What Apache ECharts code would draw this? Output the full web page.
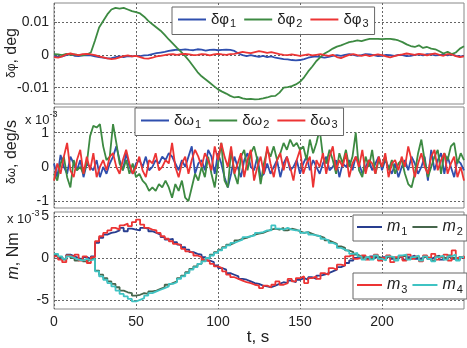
<!DOCTYPE html>
<html><head><meta charset="utf-8">
<script src="https://cdn.jsdelivr.net/npm/echarts@6/dist/echarts.min.js"></script>
<style>html,body{margin:0;padding:0;background:#fff}#c{width:467px;height:348px}</style>
</head><body><div id="c"></div>
<script>
// ---------- data ----------
const T_MAX = 250;
const xTicks = [0, 50, 100, 150, 200];
// panel 1: attitude errors, deg, sampled every 2.5 s
const phiStep = 2.5;
const phi1 = [
 -0.0003,-0.0005,-0.0004,0.0000,0.0003,-0.0002,-0.0003,-0.0001,0.0000,-0.0001,
 -0.0004,-0.0006,-0.0008,-0.0010,-0.0009,-0.0006,-0.0004,-0.0006,-0.0003,-0.0004,
 -0.0002,-0.0003,-0.0001,0.0000,0.0003,0.0006,0.0008,0.0010,0.0013,0.0015,
 0.0017,0.0016,0.0018,0.0016,0.0015,0.0018,0.0017,0.0014,0.0016,0.0017,
 0.0015,0.0016,0.0017,0.0016,0.0013,0.0005,0.0000,-0.0003,0.0000,-0.0003,
 -0.0005,-0.0002,-0.0006,-0.0004,-0.0008,-0.0010,-0.0012,-0.0013,-0.0015,-0.0016,
 -0.0015,-0.0012,-0.0008,-0.0005,-0.0004,-0.0006,-0.0008,-0.0005,-0.0002,0.0000,
 -0.0002,0.0001,0.0003,0.0001,-0.0002,0.0000,0.0003,0.0002,0.0000,-0.0003,
 -0.0002,0.0001,0.0000,-0.0002,0.0001,0.0000,-0.0003,-0.0002,0.0001,0.0002,
 -0.0001,0.0003,0.0002,-0.0001,0.0000,0.0002,-0.0001,0.0003,-0.0002,-0.0004,
 -0.0003];
const phi2 = [
 0.0003,0.0002,0.0000,0.0004,0.0001,0.0002,0.0000,-0.0001,0.0002,0.0008,
 0.0045,0.0085,0.0105,0.0125,0.0140,0.0145,0.0143,0.0145,0.0140,0.0135,
 0.0132,0.0128,0.0118,0.0105,0.0095,0.0085,0.0075,0.0062,0.0048,0.0035,
 0.0022,0.0010,-0.0003,-0.0018,-0.0035,-0.0052,-0.0065,-0.0075,-0.0085,-0.0095,
 -0.0105,-0.0112,-0.0118,-0.0125,-0.0130,-0.0128,-0.0133,-0.0135,-0.0134,-0.0136,
 -0.0135,-0.0133,-0.0130,-0.0126,-0.0125,-0.0115,-0.0100,-0.0098,-0.0095,-0.0090,
 -0.0082,-0.0068,-0.0050,-0.0035,-0.0018,-0.0006,0.0005,0.0012,0.0020,0.0026,
 0.0030,0.0035,0.0040,0.0042,0.0045,0.0043,0.0047,0.0050,0.0050,0.0050,
 0.0049,0.0050,0.0050,0.0048,0.0045,0.0040,0.0033,0.0028,0.0025,0.0030,
 0.0022,0.0025,0.0020,0.0018,0.0012,0.0005,0.0010,0.0003,0.0008,0.0020,
 0.0027];
const phi3 = [
 -0.0006,-0.0008,-0.0004,0.0002,0.0005,0.0002,0.0000,0.0003,0.0004,0.0002,
 0.0000,-0.0004,-0.0007,-0.0010,-0.0012,-0.0011,-0.0007,-0.0003,-0.0001,-0.0004,
 -0.0002,-0.0006,-0.0010,-0.0011,-0.0008,-0.0004,-0.0002,0.0000,0.0002,0.0003,
 0.0001,0.0003,0.0004,0.0002,0.0000,0.0001,0.0003,0.0002,-0.0001,0.0002,
 0.0004,0.0002,0.0001,0.0003,0.0004,0.0007,0.0010,0.0008,0.0006,0.0009,
 0.0012,0.0010,0.0007,0.0009,0.0006,0.0003,0.0001,0.0000,0.0002,0.0000,
 -0.0002,0.0000,0.0002,-0.0001,0.0001,0.0003,0.0000,-0.0002,0.0001,-0.0006,
 -0.0009,-0.0004,0.0001,0.0003,0.0000,-0.0002,0.0001,-0.0003,0.0000,0.0002,
 0.0000,-0.0004,-0.0007,-0.0003,0.0000,0.0002,0.0005,0.0003,0.0001,0.0004,
 0.0002,-0.0001,0.0003,0.0005,0.0001,-0.0002,0.0003,0.0002,-0.0003,-0.0006,
 -0.0004];
// panel 2: rate errors, x1e-3 deg/s, sampled every 2 s
const omStep = 2;
const om1 = [
 0.1,-0.3,0.35,0.0,-0.2,0.3,0.1,-0.1,0.2,-0.3,
 0.1,0.0,-0.1,0.2,-0.3,0.0,-0.2,0.1,0.3,0.6,
 0.2,-0.1,0.4,0.0,-0.2,0.1,0.2,0.0,0.3,-0.1,
 0.0,0.2,0.1,0.3,0.2,0.4,0.3,0.1,-0.1,0.2,
 0.0,0.3,0.6,-0.2,0.1,0.2,-0.1,0.5,0.3,-0.2,
 0.4,0.1,-0.3,-0.6,-0.2,0.3,0.0,-0.3,0.2,0.4,
 0.0,-0.1,0.3,-0.3,-0.2,0.1,-0.2,0.0,0.2,-0.3,
 0.1,0.3,-0.1,0.0,0.2,-0.2,0.1,0.3,-0.1,0.2,
 0.0,-0.2,0.1,0.3,-0.1,0.0,0.2,-0.3,0.1,0.0,
 0.2,-0.1,0.3,0.1,-0.2,0.0,0.2,-0.1,0.1,0.3,
 -0.1,0.2,0.0,-0.2,0.1,-0.3,0.0,0.2,-0.1,0.3,
 0.1,-0.2,0.0,0.3,-0.4,0.5,-0.1,0.2,0.4,-0.2,
 0.3,0.0,-0.3,0.2,0.1,-0.1];
const om2 = [
 -0.2,-0.4,0.1,0.3,-0.3,-0.6,0.2,-0.1,0.0,-0.2,
 0.1,0.9,1.2,1.15,1.25,0.6,0.2,0.3,1.25,0.7,
 0.1,-0.1,0.2,-0.2,0.1,-0.3,-0.2,-0.4,-0.5,-0.7,
 -0.6,-0.7,-0.5,-0.6,-0.4,-0.6,-0.9,-0.5,-0.7,-0.4,
 -0.9,-1.0,-0.6,-0.2,-0.4,0.0,-0.3,0.3,-0.2,-0.6,
 0.1,0.7,-0.4,-0.6,0.5,-0.2,-0.5,0.3,0.5,-0.1,
 0.4,0.6,0.2,-0.5,0.1,0.5,0.3,0.6,0.2,0.4,
 0.7,0.5,0.8,0.6,0.7,0.5,0.6,0.2,0.8,0.4,
 0.7,1.1,0.3,0.1,0.5,0.2,-0.2,0.4,0.1,0.5,
 0.0,0.3,1.0,-0.1,-0.3,0.3,0.0,0.5,-0.2,0.2,
 0.0,0.3,-0.1,0.2,-0.2,0.1,0.2,-0.2,-0.5,-0.6,
 -0.2,0.4,0.8,0.2,-0.3,0.0,0.3,0.5,-0.2,0.4,
 0.2,0.6,0.7,0.1,0.4,0.2];
const om3 = [
 -0.4,0.1,-0.2,0.3,0.7,-0.1,-0.3,0.2,0.5,-0.2,
 0.3,-0.1,0.4,-0.3,0.0,0.2,-0.1,0.3,0.4,0.0,
 -0.2,0.2,0.5,0.1,-0.2,0.0,0.3,-0.1,-0.3,0.2,
 0.1,0.4,-0.1,0.0,0.2,0.1,0.7,0.0,-0.3,0.1,
 0.3,-0.2,0.2,0.5,0.3,0.0,0.4,0.2,-0.1,0.6,
 0.2,0.7,0.3,0.0,0.6,-0.2,0.1,0.4,-0.3,0.2,
 0.5,-0.4,0.0,0.3,-0.2,0.6,0.1,-0.3,0.2,0.4,
 -0.1,0.3,0.0,-0.4,0.2,0.5,-0.2,0.1,0.3,-0.6,
 0.2,0.0,0.4,-0.2,0.3,0.6,-0.1,0.2,0.0,0.4,
 -0.3,0.1,0.3,0.0,0.5,-0.2,0.2,0.1,-0.2,0.3,
 0.0,0.4,-0.3,0.1,0.2,-0.1,0.3,0.0,0.6,0.2,
 -0.3,0.1,0.4,0.0,-0.2,0.3,0.5,-0.1,0.2,0.4,
 -0.2,0.1,0.3,-0.3,0.0,-0.4];
// panel 3: control torques, x1e-3 Nm, sampled every 2.5 s (held)
const mStep = 2.5;
const m1 = [
 0.3,0.0,-0.2,0.4,0.2,0.0,-0.2,0.1,-0.1,0.2,
 1.8,2.4,2.8,3.0,3.1,3.3,3.6,3.2,3.5,3.4,
 3.3,3.6,3.5,3.2,3.0,2.8,2.5,2.2,2.3,1.9,
 1.6,1.3,1.0,0.7,0.5,0.4,0.1,-0.3,-0.5,-0.9,
 -1.2,-1.4,-1.8,-2.0,-2.2,-2.5,-2.6,-2.8,-3.0,-3.1,
 -3.3,-3.4,-3.5,-3.3,-3.1,-2.9,-3.0,-2.7,-2.9,-2.6,
 -2.4,-2.6,-2.3,-2.5,-2.1,-2.0,-1.8,-1.6,-1.4,-1.1,
 -0.9,-0.6,-0.3,0.0,0.2,0.1,-0.1,0.2,0.0,-0.2,
 0.1,0.3,-0.1,0.0,0.2,-0.2,0.1,0.3,-0.1,0.0,
 0.2,-0.1,0.1,0.3,-0.2,0.0,0.2,-0.1,0.1,0.0,
 0.1];
const m2 = [
 0.4,0.1,-0.2,0.3,0.0,-0.3,-0.1,-0.4,-0.2,0.0,
 -1.5,-2.0,-2.4,-2.8,-3.1,-3.5,-3.9,-4.1,-4.2,-4.5,
 -4.4,-4.2,-4.3,-4.0,-3.9,-3.7,-3.5,-3.2,-3.0,-2.8,
 -2.4,-2.1,-1.7,-1.3,-1.0,-0.7,-0.3,0.0,0.4,0.7,
 1.0,1.3,1.6,1.8,2.1,2.3,2.4,2.6,2.8,2.9,
 3.0,3.2,3.4,3.5,3.4,3.6,3.3,3.5,3.4,3.2,
 3.0,3.1,2.9,2.7,2.6,2.4,2.1,1.9,1.7,1.4,
 1.2,0.9,0.7,0.4,0.2,0.0,0.1,-0.1,0.2,0.0,
 -0.2,0.1,0.0,-0.1,0.2,0.3,-0.1,0.0,0.2,-0.2,
 0.1,0.0,-0.3,0.2,0.1,-0.1,0.3,0.0,-0.2,0.1,
 0.0];
const m3 = [
 0.2,-0.2,-0.5,0.3,0.1,0.4,-0.3,0.2,-0.6,0.1,
 2.0,2.6,3.0,3.3,3.6,3.4,3.9,4.1,3.8,4.3,
 4.6,4.0,3.6,3.4,3.3,3.0,2.6,2.3,2.0,1.7,
 1.5,1.1,0.8,0.6,0.3,0.1,-0.2,-0.4,-0.7,-1.0,
 -1.2,-1.6,-2.0,-2.3,-2.5,-2.7,-2.9,-3.0,-3.2,-3.3,
 -3.6,-3.3,-3.5,-3.2,-2.8,-3.2,-3.0,-2.5,-2.8,-2.4,
 -2.2,-3.0,-2.4,-2.2,-2.5,-1.8,-2.0,-1.2,-1.4,-0.8,
 -0.9,0.2,0.4,-0.1,0.0,0.3,-0.2,0.1,0.4,-0.3,
 0.0,0.3,-0.5,0.1,0.2,-0.3,0.4,-0.1,0.2,-0.4,
 0.3,0.0,0.5,-0.2,0.1,0.4,-0.3,0.9,0.0,0.2,
 -0.1];
const m4 = [
 0.5,0.2,-0.1,0.2,0.0,-0.2,-0.3,-0.1,-0.3,-0.1,
 -1.6,-2.2,-2.6,-3.0,-3.4,-3.9,-4.3,-4.6,-4.9,-5.2,
 -5.0,-4.8,-4.5,-4.2,-4.0,-3.8,-3.6,-3.4,-3.1,-2.9,
 -2.5,-2.2,-1.8,-1.4,-1.1,-0.7,-0.4,0.0,0.3,0.6,
 0.9,1.2,1.5,1.8,2.0,2.2,2.5,2.6,2.7,3.0,
 3.1,3.3,3.3,3.9,3.5,3.4,3.6,3.4,3.3,3.3,
 3.0,3.1,2.8,2.7,2.6,2.3,2.1,1.8,1.6,1.2,
 1.0,0.8,0.5,0.6,0.2,-0.2,0.1,-0.2,0.3,-0.1,
 -0.3,0.2,0.1,-0.3,0.3,0.4,-0.2,0.1,0.3,-0.3,
 0.2,-0.1,-0.4,0.1,0.3,-0.2,0.2,0.4,-0.3,0.1,
 0.1];
const yTicks1 = [-0.01, 0, 0.01];
const yTicks2 = [-1, 0, 1];
const yTicks3 = [-5, 0, 5];

// ---------- chart ----------
const FONT = '"Liberation Sans", Arial, sans-serif';
const C = {b:'#2f4fae', g:'#3d8a42', r:'#ec3434', m1:'#283d8f', m2:'#46664c', m3:'#ec3434', m4:'#3fc3c3'};
const pairs = (arr, step) => arr.map((v, i) => [i * step, v]);

const gridDefs = [
  {left:54, top:3, width:410, height:101},
  {left:54, top:107, width:410, height:101},
  {left:54, top:212, width:410, height:97}
];
const yRange = [[-0.015, 0.016], [-1.2, 1.75], [-6.1, 5.5]];
const yTicks = [yTicks1, yTicks2, yTicks3];

const gridLine = {show:true, lineStyle:{color:'#666', type:[2,2], width:1}};
const legendBase = {
  orient:'horizontal', icon:'rect', itemHeight:2,
  backgroundColor:'#fff', borderColor:'#666', borderWidth:1, borderRadius:0,
  formatter: n => n.startsWith('m') ? '{i|m}{s|' + n.slice(1) + '}' : '{a|' + n.slice(0, 2) + '}{s|' + n.slice(2) + '}',
  textStyle:{color:'#222', fontFamily:FONT, fontSize:15,
    rich:{a:{fontSize:15, fontFamily:FONT, color:'#222'}, i:{fontSize:16, fontStyle:'italic', fontFamily:FONT, color:'#222'},
          s:{fontSize:11, fontFamily:FONT, color:'#222', padding:[9,0,0,1]}}}
};
const option = {
  animation:false,
  backgroundColor:'#fff',
  grid: gridDefs.map(g => Object.assign({show:true, borderColor:'#888', borderWidth:1, backgroundColor:'#fff'}, g)),
  xAxis: gridDefs.map((g, i) => ({
    type:'value', gridIndex:i, min:0, max:T_MAX,
    axisLine:{show:false},
    axisTick:{show:true, inside:true, length:3, lineStyle:{color:'#666'}, customValues:xTicks},
    axisLabel:{show:i===2, customValues:xTicks, fontSize:14, color:'#222', fontFamily:FONT, margin:6},
    splitLine: gridLine
  })),
  yAxis: gridDefs.map((g, i) => ({
    type:'value', gridIndex:i, min:yRange[i][0], max:yRange[i][1],
    axisLine:{show:false},
    axisTick:{show:true, inside:true, length:3, lineStyle:{color:'#666'}, customValues:yTicks[i]},
    axisLabel:{customValues:yTicks[i], fontSize:14, color:'#222', fontFamily:FONT, margin:5},
    splitLine: gridLine
  })),
  legend: [
    Object.assign({}, legendBase, {data:['δφ1','δφ2','δφ3'], left:172, top:7, width:300, itemWidth:28, itemGap:8, padding:[5,6,5,6]}),
    Object.assign({}, legendBase, {data:['δω1','δω2','δω3'], left:135, top:108, width:300, itemWidth:28, itemGap:8, padding:[5,6,5,6]}),
    Object.assign({}, legendBase, {data:['m1','m2'], left:353, top:215, width:200, itemWidth:25, itemGap:5, padding:[4,4,4,4]}),
    Object.assign({}, legendBase, {data:['m3','m4'], left:353, top:273, width:200, itemWidth:25, itemGap:5, padding:[4,4,4,4]})
  ],
  graphic: [
    {type:'text', x:12, y:53, rotation:Math.PI/2, style:{text:'{a|δφ}{b|, deg}', align:'center', verticalAlign:'middle',
      rich:{a:{fontSize:12, fontFamily:FONT, fill:'#222'}, b:{fontSize:16, fontFamily:FONT, fill:'#222'}}}},
    {type:'text', x:12, y:152, rotation:Math.PI/2, style:{text:'{a|δω}{b|, deg/s}', align:'center', verticalAlign:'middle',
      rich:{a:{fontSize:12, fontFamily:FONT, fill:'#222'}, b:{fontSize:16, fontFamily:FONT, fill:'#222'}}}},
    {type:'text', x:14, y:256, rotation:Math.PI/2, style:{text:'{i|m}{b|, Nm}', align:'center', verticalAlign:'middle',
      rich:{i:{fontSize:16, fontStyle:'italic', fontFamily:FONT, fill:'#222'}, b:{fontSize:16, fontFamily:FONT, fill:'#222'}}}},
    {type:'text', x:25, y:108, style:{text:'{a|x 10}{b|-3}', rich:{a:{fontSize:13, fontFamily:FONT, fill:'#222', padding:[6,0,0,0]}, b:{fontSize:9, fontFamily:FONT, fill:'#222', padding:[0,0,6,0]}}}},
    {type:'text', x:7, y:207, style:{text:'{a|x 10}{b|-3}', rich:{a:{fontSize:13, fontFamily:FONT, fill:'#222', padding:[6,0,0,0]}, b:{fontSize:9, fontFamily:FONT, fill:'#222', padding:[0,0,6,0]}}}},
    {type:'text', x:258, y:337, style:{text:'t, s', align:'center', verticalAlign:'middle', fontSize:17, fontFamily:FONT, fill:'#222'}}
  ],
  series: [
    {name:'δφ1', data:pairs(phi1, phiStep), color:C.b, xAxisIndex:0, yAxisIndex:0},
    {name:'δφ2', data:pairs(phi2, phiStep), color:C.g, xAxisIndex:0, yAxisIndex:0},
    {name:'δφ3', data:pairs(phi3, phiStep), color:C.r, xAxisIndex:0, yAxisIndex:0},
    {name:'δω1', data:pairs(om1, omStep), color:C.b, xAxisIndex:1, yAxisIndex:1},
    {name:'δω2', data:pairs(om2, omStep), color:C.g, xAxisIndex:1, yAxisIndex:1},
    {name:'δω3', data:pairs(om3, omStep), color:C.r, xAxisIndex:1, yAxisIndex:1},
    {name:'m1', data:pairs(m1, mStep), color:C.m1, xAxisIndex:2, yAxisIndex:2, step:'end'},
    {name:'m2', data:pairs(m2, mStep), color:C.m2, xAxisIndex:2, yAxisIndex:2, step:'end'},
    {name:'m3', data:pairs(m3, mStep), color:C.m3, xAxisIndex:2, yAxisIndex:2, step:'end'},
    {name:'m4', data:pairs(m4, mStep), color:C.m4, xAxisIndex:2, yAxisIndex:2, step:'end'}
  ].map(s => Object.assign({type:'line', showSymbol:false, symbol:'none', lineStyle:{width:1.8}, silent:true}, s))
};
const chart = echarts.init(document.getElementById('c'), null, {renderer:'canvas'});
chart.setOption(option);
</script></body></html>
